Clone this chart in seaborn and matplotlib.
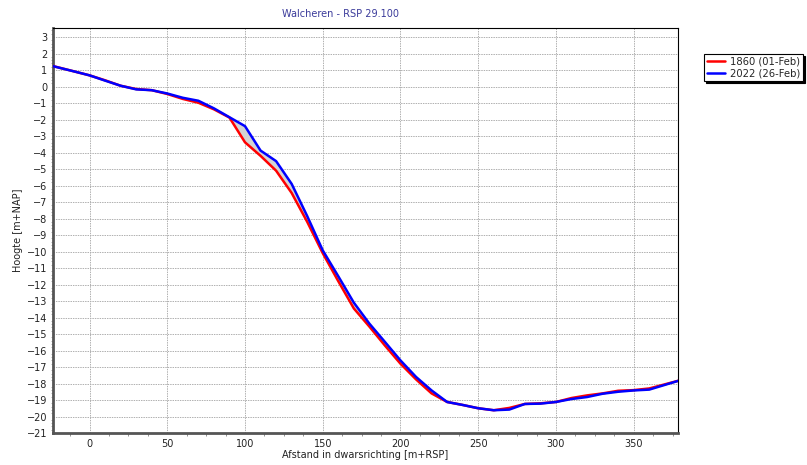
import numpy as np
import pandas as pd
import matplotlib
matplotlib.use("Agg")
import matplotlib.pyplot as plt
import seaborn as sns
from matplotlib.ticker import MultipleLocator

distance = [-25, -10, 0, 10, 20, 30, 40, 50, 60, 70, 80, 90, 100, 110, 120, 130, 140, 150,
            160, 170, 180, 190, 200, 210, 220, 230, 240, 250, 260, 270, 280, 290, 300,
            310, 320, 330, 340, 350, 360, 380]
height_1860 = [1.28, 0.92, 0.68, 0.38, 0.05, -0.15, -0.22, -0.45, -0.75, -0.98, -1.38, -1.88,
               -3.38, -4.2, -5.1, -6.45, -8.2, -10.1, -11.8, -13.45, -14.55, -15.7, -16.8,
               -17.75, -18.6, -19.12, -19.3, -19.5, -19.62, -19.48, -19.24, -19.2, -19.12,
               -18.88, -18.72, -18.6, -18.44, -18.4, -18.3, -17.8]
height_2022 = [1.27, 0.92, 0.68, 0.36, 0.05, -0.17, -0.22, -0.42, -0.68, -0.86, -1.32, -1.86,
               -2.4, -3.88, -4.52, -5.9, -7.85, -9.93, -11.5, -13.1, -14.37, -15.48, -16.6,
               -17.6, -18.42, -19.12, -19.3, -19.5, -19.62, -19.58, -19.24, -19.22, -19.12,
               -18.94, -18.82, -18.62, -18.5, -18.42, -18.37, -17.8]
series_labels = ["1860 (01-Feb)", "2022 (26-Feb)"]
title = "Walcheren - RSP 29.100"
xlabel = "Afstand in dwarsrichting [m+RSP]"
ylabel = "Hoogte [m+NAP]"

df = pd.DataFrame({
    "x": distance * 2,
    "y": height_1860 + height_2022,
    "serie": [series_labels[0]] * len(distance) + [series_labels[1]] * len(distance),
})

sns.set_style("white")
plt.rcParams["font.family"] = ["DejaVu Sans"]
plt.rcParams["font.size"] = 7

fig = plt.figure(figsize=(8.07, 4.65), dpi=100)
ax = fig.add_axes([53 / 807, 1 - 433 / 465, (678 - 53) / 807, (433 - 28) / 465])

ax.fill_between(distance, height_1860, height_2022, color="#d3d3d3", linewidth=0, zorder=1)
sns.lineplot(data=df, x="x", y="y", hue="serie", palette=["#ff0000", "#0000ff"],
             linewidth=1.8, ax=ax, legend=True, zorder=3, sort=False)

ax.set_xlim(-23.5, 378.5)
ax.set_ylim(-21, 3.55)
ax.xaxis.set_major_locator(MultipleLocator(50))
ax.xaxis.set_minor_locator(MultipleLocator(12.5))
ax.yaxis.set_major_locator(MultipleLocator(1))
ax.yaxis.set_minor_locator(MultipleLocator(0.2))
ax.grid(True, which="major", color="#b0b0b0", linestyle=(0, (1.5, 1)), linewidth=0.7)
ax.tick_params(axis="both", which="major", length=0, labelsize=7, labelcolor="#222222", pad=4)
ax.tick_params(axis="x", which="minor", length=2.5, width=0.6, color="#808080")
ax.tick_params(axis="y", which="minor", length=1.5, width=0.5, color="#909090")
ax.tick_params(bottom=True, left=True, which="both")

for side in ["top", "right"]:
    ax.spines[side].set_color("black")
    ax.spines[side].set_linewidth(0.8)
for side in ["left", "bottom"]:
    ax.spines[side].set_color("#555555")
    ax.spines[side].set_linewidth(2.0)

ax.set_xlabel(xlabel, fontsize=7, color="#222222", labelpad=1)
ax.set_ylabel(ylabel, fontsize=7, color="#222222", labelpad=3)
fig.text(341 / 807, 1 - 14 / 465, title, ha="center", va="center", fontsize=7, color="#3a3a9a")

handles, labels = ax.get_legend_handles_labels()
leg = ax.legend(handles, labels, loc="upper left", bbox_to_anchor=(704 / 807, 1 - 54 / 465),
                bbox_transform=fig.transFigure, frameon=True, fancybox=False,
                shadow={"ox": 1.5, "oy": -1.5, "color": "black", "alpha": 1},
                fontsize=7.2, handlelength=1.8, handletextpad=0.5, borderpad=0.3,
                labelspacing=0.12, borderaxespad=0)
leg.get_frame().set_edgecolor("black")
leg.get_frame().set_linewidth(0.8)
for line in leg.get_lines():
    line.set_linewidth(1.8)

fig.savefig("out.png", dpi=100)
